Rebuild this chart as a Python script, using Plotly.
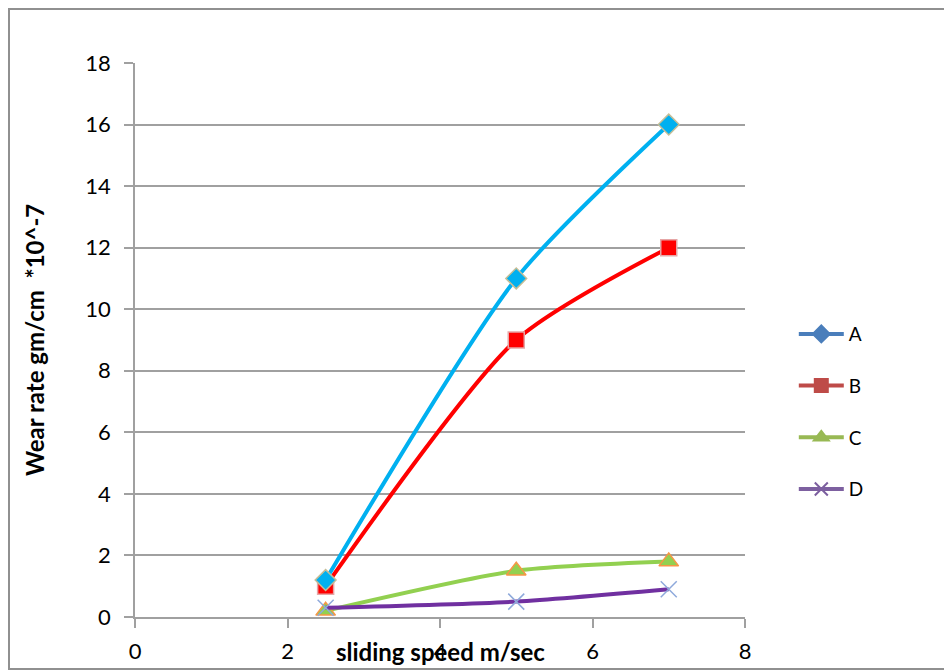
import plotly.graph_objects as go

speed = [2.5, 5, 7]
series_names = ["A", "B", "C", "D"]
wear_A = [1.2, 11, 16]
wear_B = [1.0, 9, 12]
wear_C = [0.2, 1.5, 1.8]
wear_D = [0.3, 0.5, 0.9]

x_ticks = [0, 2, 4, 6, 8]
y_ticks = [0, 2, 4, 6, 8, 10, 12, 14, 16, 18]

FONT = "Lato"
SMOOTH = 0.7

fig = go.Figure()

# main series (hidden from legend); drawing order C, D, B, A
fig.add_trace(go.Scatter(x=speed, y=wear_C, mode="lines+markers", showlegend=False,
                         line=dict(color="#92D050", width=4, shape="spline", smoothing=SMOOTH),
                         marker=dict(symbol="triangle-up", size=17, color="#92D050",
                                     line=dict(color="#F79646", width=1.5))))
fig.add_trace(go.Scatter(x=speed, y=wear_D, mode="lines+markers", showlegend=False,
                         line=dict(color="#7030A0", width=4, shape="spline", smoothing=SMOOTH),
                         marker=dict(symbol="x-thin", size=16, color="#8EA9DB",
                                     line=dict(color="#8EA9DB", width=1.5))))
fig.add_trace(go.Scatter(x=speed, y=wear_B, mode="lines+markers", showlegend=False,
                         line=dict(color="#FF0000", width=4, shape="spline", smoothing=SMOOTH),
                         marker=dict(symbol="square", size=16, color="#FF0000",
                                     line=dict(color="#E6A6A6", width=1.5))))
fig.add_trace(go.Scatter(x=speed, y=wear_A, mode="lines+markers", showlegend=False,
                         line=dict(color="#00B0F0", width=4, shape="spline", smoothing=SMOOTH),
                         marker=dict(symbol="diamond", size=16, color="#00B0F0",
                                     line=dict(color="#C4BD97", width=1.5))))

# legend entries (Excel default colours)
legend_styles = [
    ("#4A7EBB", "diamond"),
    ("#BE4B48", "square"),
    ("#98B954", "triangle-up"),
    ("#7D60A0", "x-thin"),
]
for name, (col, sym) in zip(series_names, legend_styles):
    fig.add_trace(go.Scatter(x=[None], y=[None], mode="lines+markers", name=name,
                             legendgroup=name,
                             line=dict(color=col, width=4),
                             marker=dict(symbol=sym, size=13, color=col,
                                         line=dict(color=col, width=2))))

fig.update_layout(
    width=944, height=662,
    margin=dict(l=127, r=207, t=55, b=53),
    paper_bgcolor="white", plot_bgcolor="white",
    font=dict(family=FONT, size=22, color="#000000"),
    legend=dict(x=1.08, y=0.545, xanchor="left", yanchor="top",
                font=dict(family=FONT, size=19, color="#000000"),
                tracegroupgap=24, itemwidth=45, bgcolor="rgba(0,0,0,0)"),
    xaxis=dict(range=[0, 8], tickvals=x_ticks, showgrid=False, zeroline=False,
               showline=True, linecolor="#A0A0A0", linewidth=1.5,
               ticks="outside", ticklen=9, tickcolor="#A0A0A0", tickwidth=1.5,
               ticklabelstandoff=5, automargin=False,
               tickfont=dict(size=22), fixedrange=True),
    yaxis=dict(range=[0, 18], tickvals=y_ticks, showgrid=True, gridcolor="#A0A0A0",
               gridwidth=1.5, zeroline=False,
               showline=True, linecolor="#A0A0A0", linewidth=1.5,
               ticks="outside", ticklen=9, tickcolor="#A0A0A0", tickwidth=1.5,
               ticklabelstandoff=9, automargin=False,
               tickfont=dict(size=22), fixedrange=True),
    shapes=[dict(type="rect", xref="paper", yref="paper",
                 x0=-126 / 610, x1=830 / 610, y0=-52 / 554, y1=608 / 554,
                 line=dict(color="#909090", width=2), fillcolor="rgba(0,0,0,0)",
                 layer="below")],
    annotations=[
        dict(text="<b>sliding speed m/sec</b>", xref="paper", yref="paper",
             x=305 / 610, y=-34 / 554, xanchor="center", yanchor="middle",
             showarrow=False, font=dict(family=FONT, size=24)),
        dict(text="<b>Wear rate gm/cm  *10^-7</b>", xref="paper", yref="paper",
             x=-101 / 610, y=277 / 554, xanchor="center", yanchor="middle",
             textangle=-90, showarrow=False, font=dict(family=FONT, size=24)),
    ],
)

fig.write_html("out.html")
